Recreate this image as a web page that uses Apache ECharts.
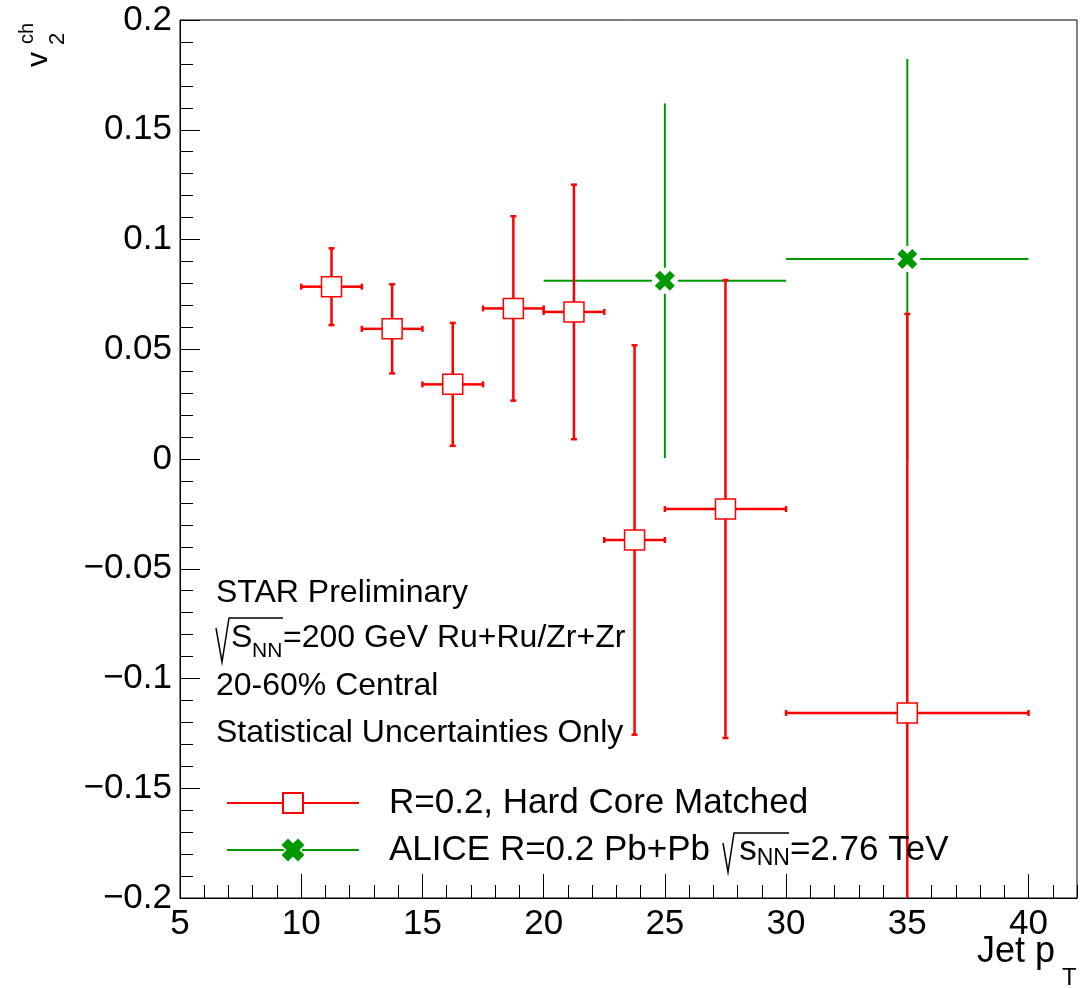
<!DOCTYPE html>
<html>
<head>
<meta charset="utf-8">
<script src="https://cdn.jsdelivr.net/npm/echarts@6/dist/echarts.min.js"></script>
<style>html,body{margin:0;padding:0;background:#fff}#c{width:1089px;height:988px}</style>
</head>
<body>
<div id="c"></div>
<script>
// ---- data ----
const starX = [11.25, 13.75, 16.25, 18.75, 21.25, 23.75, 27.5, 35];
const starXErr = [1.25, 1.25, 1.25, 1.25, 1.25, 1.25, 2.5, 5];
const starY = [0.0785, 0.0593, 0.034, 0.0686, 0.067, -0.0369, -0.0228, -0.1157];
const starYErr = [0.0175, 0.0203, 0.028, 0.042, 0.058, 0.0887, 0.1043, 0.1818];
const aliceX = [25, 35];
const aliceXErr = [5, 5];
const aliceY = [0.0812, 0.0911];
const aliceYErr = [0.0808, 0.0911];
const xTicks = [5, 10, 15, 20, 25, 30, 35, 40];
const yTicks = [-0.2, -0.15, -0.1, -0.05, 0, 0.05, 0.1, 0.15, 0.2];
const starName = 'R=0.2, Hard Core Matched';
const aliceName = 'ALICE R=0.2 Pb+Pb';

const FONT = 'Liberation Sans';
const RED = '#ff0000';
const GREEN = '#009900';

function errRender(gap, cap, color, lw) {
  return function (params, api) {
    const x = api.value(0), y = api.value(1), xe = api.value(2), ye = api.value(3);
    const c = api.coord([x, y]);
    const l = api.coord([x - xe, y]);
    const r = api.coord([x + xe, y]);
    const t = api.coord([x, y + ye]);
    const b = api.coord([x, y - ye]);
    const st = { stroke: color, lineWidth: lw };
    const ch = [
      { type: 'line', shape: { x1: l[0], y1: c[1], x2: c[0] - gap, y2: c[1] }, style: st },
      { type: 'line', shape: { x1: c[0] + gap, y1: c[1], x2: r[0], y2: c[1] }, style: st },
      { type: 'line', shape: { x1: c[0], y1: t[1], x2: c[0], y2: c[1] - gap }, style: st },
      { type: 'line', shape: { x1: c[0], y1: c[1] + gap, x2: c[0], y2: b[1] }, style: st }
    ];
    if (cap > 0) {
      ch.push({ type: 'line', shape: { x1: l[0], y1: c[1] - cap, x2: l[0], y2: c[1] + cap }, style: st });
      ch.push({ type: 'line', shape: { x1: r[0], y1: c[1] - cap, x2: r[0], y2: c[1] + cap }, style: st });
      ch.push({ type: 'line', shape: { x1: c[0] - cap, y1: t[1], x2: c[0] + cap, y2: t[1] }, style: st });
      ch.push({ type: 'line', shape: { x1: c[0] - cap, y1: b[1], x2: c[0] + cap, y2: b[1] }, style: st });
    }
    return { type: 'group', children: ch };
  };
}

const xMarkPath = 'path://M0,3L3,0L6,3L9,0L12,3L9,6L12,9L9,12L6,9L3,12L0,9L3,6Z';
const redLegendIcon = 'path://M0,10L56,10M76,10L132,10M56,0L76,0L76,20L56,20Z';
const greenLegendIcon = 'path://M0,10L57,10M75,10L132,10M56,5L61,0L66,5L71,0L76,5L71,10L76,15L71,20L66,15L61,20L56,15L61,10Z';

const fmt = v => {
  const r = Math.round(v * 100) / 100;
  if (yTicks.indexOf(r) < 0) return '';
  return String(r).replace('-', '\u2212');
};

const chart = echarts.init(document.getElementById('c'), null, { renderer: 'canvas' });
chart.setOption({
  animation: false,
  backgroundColor: '#fff',
  textStyle: { fontFamily: FONT },
  grid: { left: 180, top: 20, right: 12, bottom: 90, show: true, borderColor: '#000', borderWidth: 1, backgroundColor: 'transparent' },
  xAxis: [{
    type: 'value', min: 5, max: 42, interval: 5, position: 'bottom',
    axisLine: { show: true, onZero: false, lineStyle: { color: '#000', width: 1 } },
    axisTick: { show: true, inside: true, length: 24, lineStyle: { color: '#000', width: 1 } },
    axisLabel: { show: true, showMaxLabel: false, margin: 9, fontSize: 35, color: '#000', fontFamily: FONT,
      formatter: v => (xTicks.indexOf(v) >= 0 ? String(v) : '') },
    splitLine: { show: false }
  }, {
    type: 'value', min: 5, max: 42, interval: 1, position: 'bottom',
    axisLine: { show: false, onZero: false },
    axisTick: { show: true, inside: true, length: 13, lineStyle: { color: '#000', width: 1 } },
    axisLabel: { show: false }, splitLine: { show: false }
  }],
  yAxis: [{
    type: 'value', min: -0.2, max: 0.2, interval: 0.05,
    axisLine: { show: true, onZero: false, lineStyle: { color: '#000', width: 1 } },
    axisTick: { show: true, inside: true, length: 20, lineStyle: { color: '#000', width: 1 } },
    minorTick: { show: true, splitNumber: 5, length: 13, lineStyle: { color: '#000', width: 1 } },
    axisLabel: { show: true, margin: 8, fontSize: 35, color: '#000', fontFamily: FONT, formatter: fmt },
    splitLine: { show: false }, minorSplitLine: { show: false }
  }],
  legend: {
    orient: 'vertical', left: 226, top: 783, padding: 0, itemWidth: 132, itemHeight: 20, itemGap: 7,
    symbolKeepAspect: false,
    selectedMode: false,
    textStyle: { fontSize: 35, lineHeight: 40, color: '#000', fontFamily: FONT, padding: [0, 0, 0, 25],
      rich: {
        m: { fontSize: 35, lineHeight: 40, fontFamily: FONT, color: '#000', verticalAlign: 'middle' },
        sub: { fontSize: 23, lineHeight: 20, fontFamily: FONT, color: '#000', verticalAlign: 'bottom' }
      } },
    formatter: name => name === aliceName
      ? '{m|' + aliceName + '   s}{sub|NN}{m|=2.76 TeV}'
      : '{m|' + name + '}',
    data: [
      { name: starName, icon: redLegendIcon, itemStyle: { color: '#fff', borderColor: RED, borderWidth: 2 } },
      { name: aliceName, icon: greenLegendIcon, itemStyle: { color: GREEN, borderColor: GREEN, borderWidth: 2 } }
    ]
  },
  series: [
    {
      type: 'custom', name: 'aliceErr', clip: true, silent: true, z: 2,
      renderItem: errRender(13, 0, GREEN, 2),
      encode: { x: 0, y: 1 },
      data: aliceX.map((x, i) => [x, aliceY[i], aliceXErr[i], aliceYErr[i]])
    },
    {
      type: 'custom', name: 'starErr', clip: true, silent: true, z: 3,
      renderItem: errRender(0, 3, RED, 2.5),
      encode: { x: 0, y: 1 },
      data: starX.map((x, i) => [x, starY[i], starXErr[i], starYErr[i]])
    },
    {
      type: 'scatter', name: starName, z: 5, symbol: 'rect', symbolSize: 20,
      itemStyle: { color: '#fff', borderColor: RED, borderWidth: 1.5, opacity: 1 },
      data: starX.map((x, i) => [x, starY[i]])
    },
    {
      type: 'scatter', name: aliceName, z: 5, symbol: xMarkPath, symbolSize: 20,
      itemStyle: { color: GREEN, opacity: 1 },
      data: aliceX.map((x, i) => [x, aliceY[i]])
    }
  ],
  graphic: [
    // text block
    { type: 'text', left: 216, top: 577, style: { text: 'STAR Preliminary', font: '32px "Liberation Sans"', fill: '#000' } },
    { type: 'polyline', shape: { points: [[216, 628], [222, 662], [229, 618], [283, 618]] }, style: { stroke: '#000', lineWidth: 1.5, fill: null } },
    { type: 'text', left: 231, top: 622, style: { text: 'S', font: '32px "Liberation Sans"', fill: '#000' } },
    { type: 'text', left: 252, top: 641, style: { text: 'NN', font: '21px "Liberation Sans"', fill: '#000' } },
    { type: 'text', left: 283, top: 622, style: { text: '=200 GeV Ru+Ru/Zr+Zr', font: '32px "Liberation Sans"', fill: '#000' } },
    { type: 'text', left: 216, top: 670, style: { text: '20-60% Central', font: '32px "Liberation Sans"', fill: '#000' } },
    { type: 'text', left: 216, top: 717, style: { text: 'Statistical Uncertainties Only', font: '32px "Liberation Sans"', fill: '#000' } },
    // radical sign for the legend entry
    { type: 'polyline', z: 10, shape: { points: [[723, 843], [728, 872], [734, 833], [789, 833]] }, style: { stroke: '#000', lineWidth: 1.5, fill: null } },
    // y title
    { type: 'text', x: 54, y: 67, rotation: Math.PI / 2, style: { text: 'v', font: '30px "Liberation Sans"', fill: '#000', align: 'left', verticalAlign: 'bottom' } },
    { type: 'text', x: 37, y: 44, rotation: Math.PI / 2, style: { text: 'ch', font: '20px "Liberation Sans"', fill: '#000', align: 'left', verticalAlign: 'bottom' } },
    { type: 'text', x: 69, y: 45, rotation: Math.PI / 2, style: { text: '2', font: '22px "Liberation Sans"', fill: '#000', align: 'left', verticalAlign: 'bottom' } },
    // x title
    { type: 'text', left: 977, top: 934, style: { text: 'Jet p', font: '36px "Liberation Sans"', fill: '#000' } },
    { type: 'text', left: 1062, top: 966, style: { text: 'T', font: '24px "Liberation Sans"', fill: '#000' } }
  ]
});
</script>
</body>
</html>
